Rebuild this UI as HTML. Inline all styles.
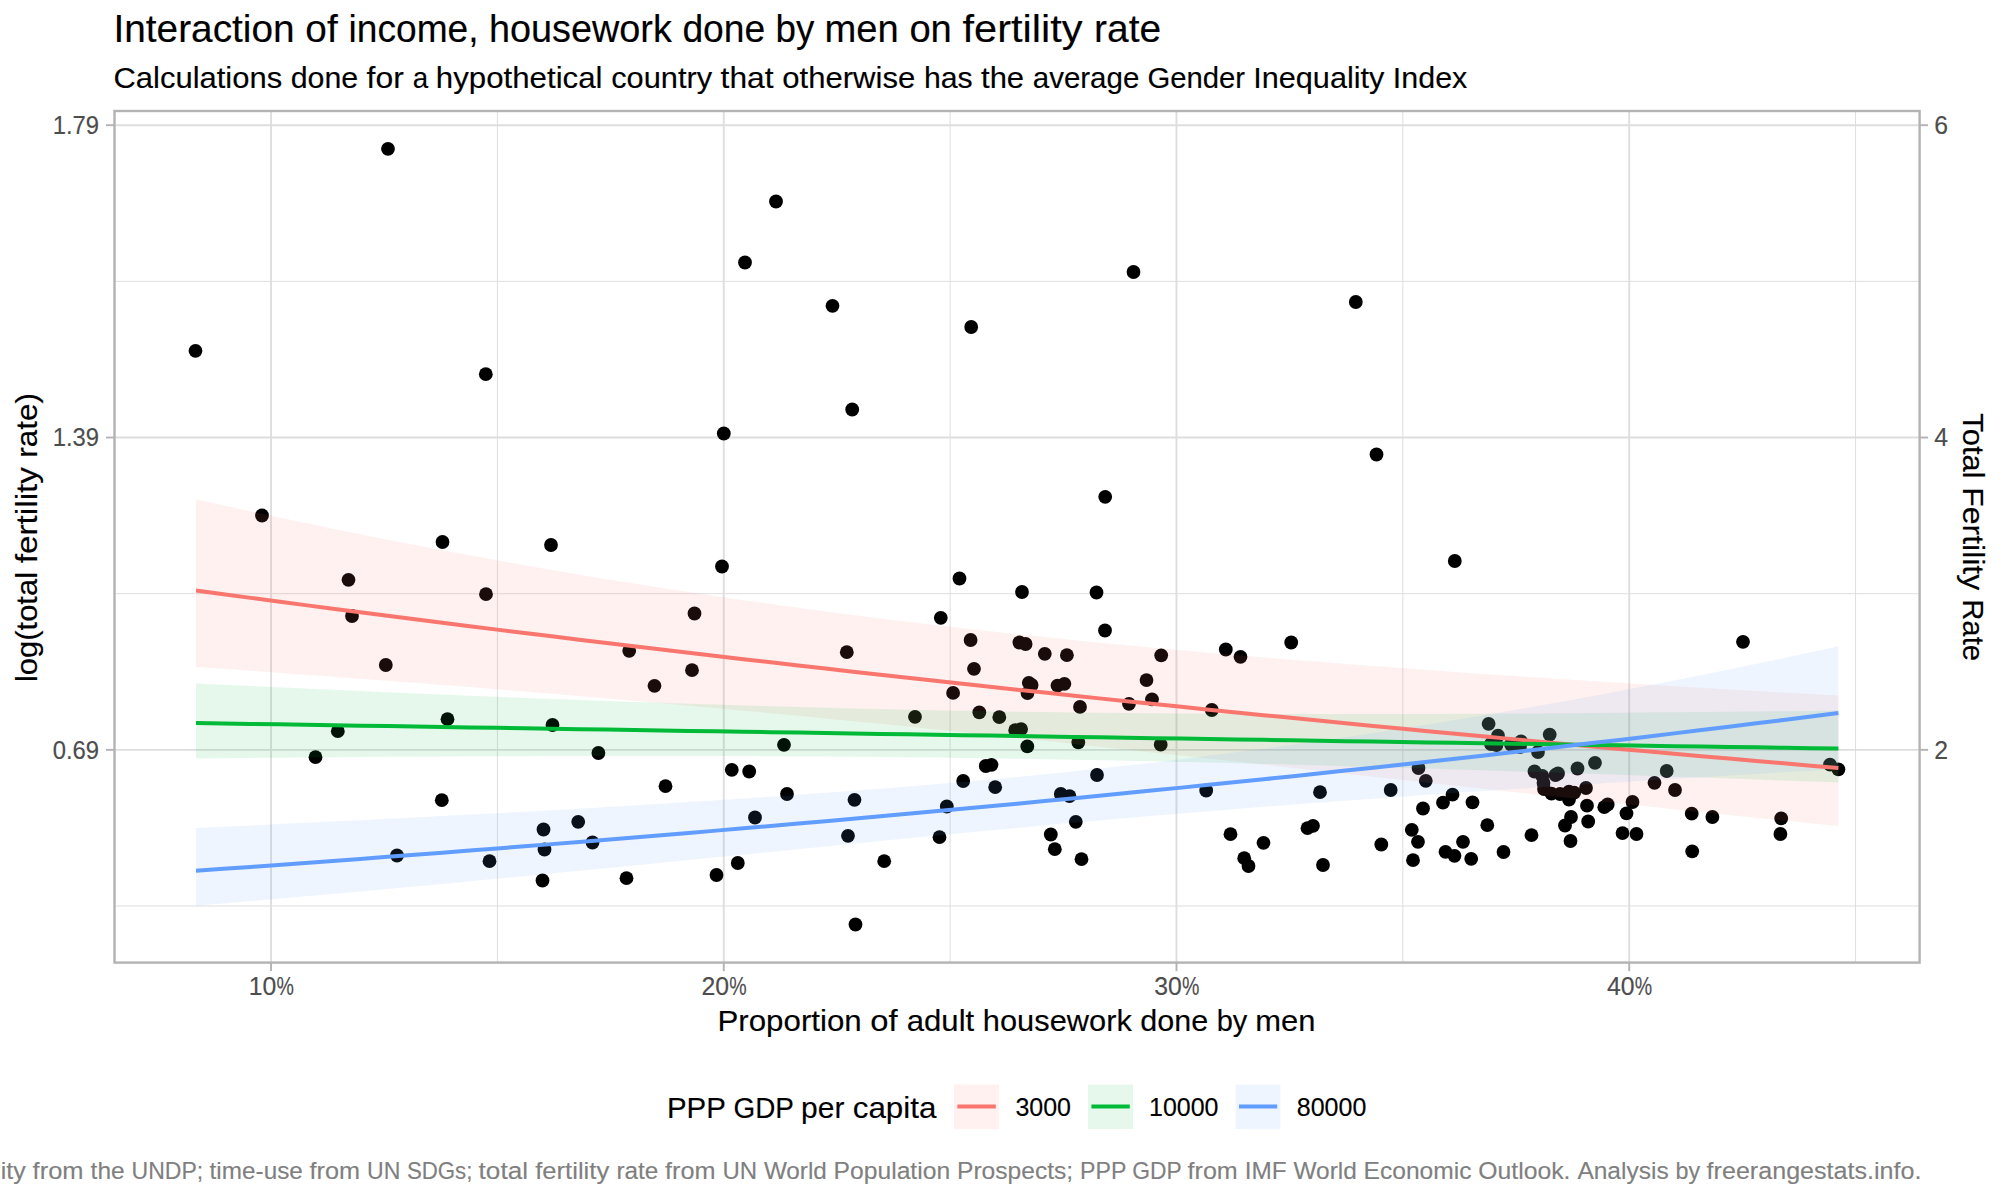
<!DOCTYPE html>
<html lang="en">
<head>
<meta charset="utf-8">
<title>Interaction of income, housework done by men on fertility rate</title>
<style>
html,body{margin:0;padding:0;background:#fff;}
body{width:2000px;height:1200px;overflow:hidden;font-family:'Liberation Sans', sans-serif;}
svg{display:block;}
text{white-space:pre;}
</style>
</head>
<body>
<svg width="2000" height="1200" viewBox="0 0 2000 1200" font-family="'Liberation Sans', sans-serif">
<rect x="0" y="0" width="2000" height="1200" fill="#ffffff"/>
<g id="grid" fill="none">
<line x1="114.5" x2="1919.6" y1="906.01" y2="906.01" stroke="#dedede" stroke-width="1.0"/>
<line x1="114.5" x2="1919.6" y1="593.69" y2="593.69" stroke="#dedede" stroke-width="1.0"/>
<line x1="114.5" x2="1919.6" y1="281.36" y2="281.36" stroke="#dedede" stroke-width="1.0"/>
<line x1="497.41" x2="497.41" y1="111.0" y2="962.6" stroke="#dedede" stroke-width="1.0"/>
<line x1="950.12" x2="950.12" y1="111.0" y2="962.6" stroke="#dedede" stroke-width="1.0"/>
<line x1="1402.84" x2="1402.84" y1="111.0" y2="962.6" stroke="#dedede" stroke-width="1.0"/>
<line x1="1855.56" x2="1855.56" y1="111.0" y2="962.6" stroke="#dedede" stroke-width="1.0"/>
<line x1="114.5" x2="1919.6" y1="749.85" y2="749.85" stroke="#dedede" stroke-width="1.9"/>
<line x1="114.5" x2="1919.6" y1="437.53" y2="437.53" stroke="#dedede" stroke-width="1.9"/>
<line x1="114.5" x2="1919.6" y1="125.20" y2="125.20" stroke="#dedede" stroke-width="1.9"/>
<line x1="271.05" x2="271.05" y1="111.0" y2="962.6" stroke="#dedede" stroke-width="1.9"/>
<line x1="723.77" x2="723.77" y1="111.0" y2="962.6" stroke="#dedede" stroke-width="1.9"/>
<line x1="1176.48" x2="1176.48" y1="111.0" y2="962.6" stroke="#dedede" stroke-width="1.9"/>
<line x1="1629.20" x2="1629.20" y1="111.0" y2="962.6" stroke="#dedede" stroke-width="1.9"/>
</g>
<g id="points" fill="#000000">
<circle cx="388.0" cy="148.8" r="6.9"/>
<circle cx="195.5" cy="350.8" r="6.9"/>
<circle cx="485.8" cy="374.2" r="6.9"/>
<circle cx="776.0" cy="201.5" r="6.9"/>
<circle cx="745.0" cy="262.5" r="6.9"/>
<circle cx="832.5" cy="305.8" r="6.9"/>
<circle cx="971.2" cy="327.0" r="6.9"/>
<circle cx="1133.5" cy="272.0" r="6.9"/>
<circle cx="1355.8" cy="302.0" r="6.9"/>
<circle cx="262.0" cy="515.5" r="6.9"/>
<circle cx="442.5" cy="542.0" r="6.9"/>
<circle cx="551.0" cy="545.0" r="6.9"/>
<circle cx="348.5" cy="579.8" r="6.9"/>
<circle cx="486.0" cy="594.2" r="6.9"/>
<circle cx="352.0" cy="616.0" r="6.9"/>
<circle cx="385.8" cy="665.0" r="6.9"/>
<circle cx="852.2" cy="409.5" r="6.9"/>
<circle cx="723.8" cy="433.5" r="6.9"/>
<circle cx="722.0" cy="566.5" r="6.9"/>
<circle cx="959.5" cy="578.5" r="6.9"/>
<circle cx="1022.0" cy="592.0" r="6.9"/>
<circle cx="1096.5" cy="592.5" r="6.9"/>
<circle cx="694.5" cy="613.5" r="6.9"/>
<circle cx="940.8" cy="617.8" r="6.9"/>
<circle cx="970.6" cy="640.0" r="6.9"/>
<circle cx="1019.4" cy="642.5" r="6.9"/>
<circle cx="1025.6" cy="644.0" r="6.9"/>
<circle cx="1044.8" cy="653.8" r="6.9"/>
<circle cx="1066.9" cy="655.2" r="6.9"/>
<circle cx="629.2" cy="650.8" r="6.9"/>
<circle cx="846.8" cy="652.2" r="6.9"/>
<circle cx="692.0" cy="670.2" r="6.9"/>
<circle cx="974.0" cy="668.8" r="6.9"/>
<circle cx="654.5" cy="685.8" r="6.9"/>
<circle cx="953.1" cy="692.9" r="6.9"/>
<circle cx="1028.8" cy="682.8" r="6.9"/>
<circle cx="1031.6" cy="685.0" r="6.9"/>
<circle cx="1027.5" cy="693.1" r="6.9"/>
<circle cx="1057.5" cy="685.6" r="6.9"/>
<circle cx="1064.4" cy="683.8" r="6.9"/>
<circle cx="1105.2" cy="496.8" r="6.9"/>
<circle cx="1105.0" cy="630.5" r="6.9"/>
<circle cx="1376.5" cy="454.5" r="6.9"/>
<circle cx="1454.8" cy="561.0" r="6.9"/>
<circle cx="1291.2" cy="642.5" r="6.9"/>
<circle cx="1225.8" cy="649.5" r="6.9"/>
<circle cx="1240.5" cy="656.8" r="6.9"/>
<circle cx="1161.2" cy="655.3" r="6.9"/>
<circle cx="1146.5" cy="680.1" r="6.9"/>
<circle cx="1152.0" cy="699.3" r="6.9"/>
<circle cx="1129.0" cy="703.8" r="6.9"/>
<circle cx="1743.0" cy="641.8" r="6.9"/>
<circle cx="1080.0" cy="706.9" r="6.9"/>
<circle cx="447.5" cy="719.2" r="6.9"/>
<circle cx="552.5" cy="725.0" r="6.9"/>
<circle cx="337.8" cy="731.2" r="6.9"/>
<circle cx="315.5" cy="757.2" r="6.9"/>
<circle cx="598.4" cy="753.0" r="6.9"/>
<circle cx="441.8" cy="800.2" r="6.9"/>
<circle cx="578.2" cy="821.8" r="6.9"/>
<circle cx="543.5" cy="829.5" r="6.9"/>
<circle cx="592.5" cy="842.5" r="6.9"/>
<circle cx="544.5" cy="849.5" r="6.9"/>
<circle cx="397.0" cy="855.5" r="6.9"/>
<circle cx="489.5" cy="861.2" r="6.9"/>
<circle cx="542.5" cy="880.5" r="6.9"/>
<circle cx="915.0" cy="716.8" r="6.9"/>
<circle cx="979.3" cy="712.3" r="6.9"/>
<circle cx="999.3" cy="717.2" r="6.9"/>
<circle cx="1015.2" cy="730.2" r="6.9"/>
<circle cx="1021.1" cy="729.1" r="6.9"/>
<circle cx="1027.3" cy="746.4" r="6.9"/>
<circle cx="1078.3" cy="742.3" r="6.9"/>
<circle cx="784.0" cy="744.8" r="6.9"/>
<circle cx="731.8" cy="769.8" r="6.9"/>
<circle cx="749.2" cy="771.5" r="6.9"/>
<circle cx="985.8" cy="766.0" r="6.9"/>
<circle cx="991.5" cy="764.8" r="6.9"/>
<circle cx="1097.0" cy="775.0" r="6.9"/>
<circle cx="665.5" cy="786.2" r="6.9"/>
<circle cx="963.2" cy="781.0" r="6.9"/>
<circle cx="995.2" cy="787.2" r="6.9"/>
<circle cx="787.0" cy="794.0" r="6.9"/>
<circle cx="854.5" cy="799.8" r="6.9"/>
<circle cx="1060.8" cy="794.0" r="6.9"/>
<circle cx="1069.5" cy="796.2" r="6.9"/>
<circle cx="946.8" cy="806.5" r="6.9"/>
<circle cx="755.0" cy="817.5" r="6.9"/>
<circle cx="1075.8" cy="821.8" r="6.9"/>
<circle cx="848.0" cy="835.8" r="6.9"/>
<circle cx="939.5" cy="837.2" r="6.9"/>
<circle cx="1050.8" cy="834.5" r="6.9"/>
<circle cx="1054.8" cy="849.2" r="6.9"/>
<circle cx="1081.5" cy="859.2" r="6.9"/>
<circle cx="884.2" cy="861.2" r="6.9"/>
<circle cx="737.8" cy="863.0" r="6.9"/>
<circle cx="716.5" cy="875.0" r="6.9"/>
<circle cx="626.5" cy="878.2" r="6.9"/>
<circle cx="855.5" cy="924.5" r="6.9"/>
<circle cx="1211.8" cy="710.0" r="6.9"/>
<circle cx="1160.7" cy="744.7" r="6.9"/>
<circle cx="1206.2" cy="790.5" r="6.9"/>
<circle cx="1320.0" cy="792.2" r="6.9"/>
<circle cx="1390.7" cy="790.0" r="6.9"/>
<circle cx="1418.5" cy="768.0" r="6.9"/>
<circle cx="1425.8" cy="780.8" r="6.9"/>
<circle cx="1452.5" cy="794.7" r="6.9"/>
<circle cx="1443.0" cy="802.7" r="6.9"/>
<circle cx="1472.5" cy="802.3" r="6.9"/>
<circle cx="1423.0" cy="808.5" r="6.9"/>
<circle cx="1487.3" cy="825.2" r="6.9"/>
<circle cx="1411.8" cy="829.8" r="6.9"/>
<circle cx="1418.0" cy="841.8" r="6.9"/>
<circle cx="1463.0" cy="841.8" r="6.9"/>
<circle cx="1381.3" cy="844.5" r="6.9"/>
<circle cx="1445.5" cy="851.8" r="6.9"/>
<circle cx="1454.5" cy="855.8" r="6.9"/>
<circle cx="1471.2" cy="858.8" r="6.9"/>
<circle cx="1413.0" cy="860.2" r="6.9"/>
<circle cx="1503.5" cy="852.0" r="6.9"/>
<circle cx="1531.5" cy="835.2" r="6.9"/>
<circle cx="1230.5" cy="834.2" r="6.9"/>
<circle cx="1263.5" cy="842.8" r="6.9"/>
<circle cx="1244.2" cy="858.2" r="6.9"/>
<circle cx="1248.5" cy="866.0" r="6.9"/>
<circle cx="1307.5" cy="828.2" r="6.9"/>
<circle cx="1313.0" cy="825.8" r="6.9"/>
<circle cx="1323.0" cy="865.0" r="6.9"/>
<circle cx="1488.6" cy="723.8" r="6.9"/>
<circle cx="1498.0" cy="735.7" r="6.9"/>
<circle cx="1549.7" cy="734.6" r="6.9"/>
<circle cx="1491.0" cy="744.0" r="6.9"/>
<circle cx="1496.5" cy="745.0" r="6.9"/>
<circle cx="1521.0" cy="741.5" r="6.9"/>
<circle cx="1511.0" cy="744.5" r="6.9"/>
<circle cx="1520.0" cy="747.0" r="6.9"/>
<circle cx="1538.0" cy="752.0" r="6.9"/>
<circle cx="1595.0" cy="762.8" r="6.9"/>
<circle cx="1577.5" cy="768.5" r="6.9"/>
<circle cx="1534.5" cy="771.5" r="6.9"/>
<circle cx="1558.0" cy="773.5" r="6.9"/>
<circle cx="1555.5" cy="775.0" r="6.9"/>
<circle cx="1542.3" cy="776.0" r="6.9"/>
<circle cx="1543.5" cy="783.0" r="6.9"/>
<circle cx="1544.0" cy="789.0" r="6.9"/>
<circle cx="1551.5" cy="793.7" r="6.9"/>
<circle cx="1560.0" cy="794.0" r="6.9"/>
<circle cx="1569.0" cy="791.7" r="6.9"/>
<circle cx="1574.2" cy="792.7" r="6.9"/>
<circle cx="1586.0" cy="788.0" r="6.9"/>
<circle cx="1569.0" cy="799.5" r="6.9"/>
<circle cx="1654.5" cy="782.8" r="6.9"/>
<circle cx="1666.7" cy="771.0" r="6.9"/>
<circle cx="1675.0" cy="790.0" r="6.9"/>
<circle cx="1632.5" cy="802.0" r="6.9"/>
<circle cx="1587.0" cy="805.7" r="6.9"/>
<circle cx="1604.3" cy="807.2" r="6.9"/>
<circle cx="1607.7" cy="804.5" r="6.9"/>
<circle cx="1626.5" cy="813.3" r="6.9"/>
<circle cx="1571.0" cy="817.0" r="6.9"/>
<circle cx="1588.2" cy="821.5" r="6.9"/>
<circle cx="1565.0" cy="825.5" r="6.9"/>
<circle cx="1570.5" cy="841.0" r="6.9"/>
<circle cx="1622.5" cy="833.1" r="6.9"/>
<circle cx="1636.5" cy="834.0" r="6.9"/>
<circle cx="1691.7" cy="813.7" r="6.9"/>
<circle cx="1712.4" cy="817.0" r="6.9"/>
<circle cx="1692.2" cy="851.3" r="6.9"/>
<circle cx="1781.2" cy="818.4" r="6.9"/>
<circle cx="1780.4" cy="834.0" r="6.9"/>
<circle cx="1830.0" cy="764.6" r="6.9"/>
<circle cx="1838.4" cy="769.4" r="6.9"/>
</g>
<g id="ribbons" stroke="none">
<path d="M196.0,499.33 L223.4,505.44 L250.7,511.43 L278.1,517.31 L305.5,523.08 L332.9,528.74 L360.2,534.28 L387.6,539.72 L415.0,545.05 L442.4,550.26 L469.7,555.36 L497.1,560.35 L524.5,565.22 L551.9,569.99 L579.2,574.64 L606.6,579.17 L634.0,583.60 L661.3,587.91 L688.7,592.11 L716.1,596.20 L743.5,600.18 L770.8,604.05 L798.2,607.81 L825.6,611.46 L853.0,615.01 L880.3,618.46 L907.7,621.81 L935.1,625.06 L962.5,628.21 L989.8,631.27 L1017.2,634.24 L1044.6,637.12 L1071.9,639.92 L1099.3,642.64 L1126.7,645.28 L1154.1,647.84 L1181.4,650.33 L1208.8,652.76 L1236.2,655.12 L1263.6,657.42 L1290.9,659.65 L1318.3,661.84 L1345.7,663.96 L1373.1,666.04 L1400.4,668.07 L1427.8,670.05 L1455.2,671.99 L1482.5,673.89 L1509.9,675.75 L1537.3,677.57 L1564.7,679.35 L1592.0,681.10 L1619.4,682.82 L1646.8,684.51 L1674.2,686.17 L1701.5,687.81 L1728.9,689.41 L1756.3,691.00 L1783.7,692.55 L1811.0,694.09 L1838.4,695.60 L1838.4,826.10 L1811.0,823.34 L1783.7,820.56 L1756.3,817.76 L1728.9,814.93 L1701.5,812.09 L1674.2,809.23 L1646.8,806.35 L1619.4,803.44 L1592.0,800.53 L1564.7,797.59 L1537.3,794.64 L1509.9,791.68 L1482.5,788.71 L1455.2,785.72 L1427.8,782.72 L1400.4,779.72 L1373.1,776.71 L1345.7,773.69 L1318.3,770.67 L1290.9,767.66 L1263.6,764.64 L1236.2,761.62 L1208.8,758.62 L1181.4,755.62 L1154.1,752.63 L1126.7,749.65 L1099.3,746.69 L1071.9,743.75 L1044.6,740.83 L1017.2,737.93 L989.8,735.06 L962.5,732.21 L935.1,729.40 L907.7,726.61 L880.3,723.86 L853.0,721.15 L825.6,718.47 L798.2,715.82 L770.8,713.22 L743.5,710.65 L716.1,708.13 L688.7,705.64 L661.3,703.19 L634.0,700.78 L606.6,698.41 L579.2,696.08 L551.9,693.79 L524.5,691.53 L497.1,689.31 L469.7,687.12 L442.4,684.97 L415.0,682.85 L387.6,680.76 L360.2,678.70 L332.9,676.67 L305.5,674.67 L278.1,672.69 L250.7,670.74 L223.4,668.81 L196.0,666.90Z" fill="#F8766D" fill-opacity="0.1"/>
<path d="M196.0,683.46 L223.4,684.77 L250.7,686.07 L278.1,687.34 L305.5,688.60 L332.9,689.84 L360.2,691.05 L387.6,692.25 L415.0,693.42 L442.4,694.58 L469.7,695.70 L497.1,696.81 L524.5,697.89 L551.9,698.94 L579.2,699.96 L606.6,700.96 L634.0,701.92 L661.3,702.85 L688.7,703.76 L716.1,704.62 L743.5,705.46 L770.8,706.25 L798.2,707.01 L825.6,707.73 L853.0,708.42 L880.3,709.06 L907.7,709.67 L935.1,710.23 L962.5,710.75 L989.8,711.23 L1017.2,711.68 L1044.6,712.08 L1071.9,712.44 L1099.3,712.76 L1126.7,713.04 L1154.1,713.28 L1181.4,713.49 L1208.8,713.66 L1236.2,713.80 L1263.6,713.90 L1290.9,713.97 L1318.3,714.01 L1345.7,714.02 L1373.1,714.01 L1400.4,713.96 L1427.8,713.89 L1455.2,713.80 L1482.5,713.69 L1509.9,713.55 L1537.3,713.39 L1564.7,713.22 L1592.0,713.02 L1619.4,712.81 L1646.8,712.58 L1674.2,712.34 L1701.5,712.08 L1728.9,711.81 L1756.3,711.52 L1783.7,711.22 L1811.0,710.92 L1838.4,710.60 L1838.4,782.50 L1811.0,781.51 L1783.7,780.53 L1756.3,779.55 L1728.9,778.58 L1701.5,777.61 L1674.2,776.66 L1646.8,775.71 L1619.4,774.77 L1592.0,773.85 L1564.7,772.93 L1537.3,772.02 L1509.9,771.13 L1482.5,770.26 L1455.2,769.39 L1427.8,768.55 L1400.4,767.72 L1373.1,766.91 L1345.7,766.13 L1318.3,765.36 L1290.9,764.62 L1263.6,763.90 L1236.2,763.21 L1208.8,762.54 L1181.4,761.90 L1154.1,761.29 L1126.7,760.72 L1099.3,760.17 L1071.9,759.66 L1044.6,759.18 L1017.2,758.73 L989.8,758.32 L962.5,757.94 L935.1,757.60 L907.7,757.29 L880.3,757.01 L853.0,756.77 L825.6,756.56 L798.2,756.38 L770.8,756.24 L743.5,756.12 L716.1,756.03 L688.7,755.97 L661.3,755.94 L634.0,755.93 L606.6,755.95 L579.2,755.99 L551.9,756.06 L524.5,756.14 L497.1,756.25 L469.7,756.37 L442.4,756.51 L415.0,756.66 L387.6,756.84 L360.2,757.02 L332.9,757.23 L305.5,757.44 L278.1,757.67 L250.7,757.90 L223.4,758.15 L196.0,758.41Z" fill="#00BA38" fill-opacity="0.1"/>
<path d="M196.0,827.89 L223.4,826.64 L250.7,825.38 L278.1,824.10 L305.5,822.80 L332.9,821.48 L360.2,820.15 L387.6,818.79 L415.0,817.42 L442.4,816.02 L469.7,814.60 L497.1,813.15 L524.5,811.67 L551.9,810.17 L579.2,808.63 L606.6,807.06 L634.0,805.45 L661.3,803.80 L688.7,802.11 L716.1,800.37 L743.5,798.58 L770.8,796.74 L798.2,794.84 L825.6,792.87 L853.0,790.83 L880.3,788.73 L907.7,786.54 L935.1,784.26 L962.5,781.90 L989.8,779.44 L1017.2,776.88 L1044.6,774.22 L1071.9,771.45 L1099.3,768.56 L1126.7,765.56 L1154.1,762.43 L1181.4,759.19 L1208.8,755.82 L1236.2,752.33 L1263.6,748.72 L1290.9,744.98 L1318.3,741.12 L1345.7,737.15 L1373.1,733.05 L1400.4,728.83 L1427.8,724.50 L1455.2,720.06 L1482.5,715.50 L1509.9,710.83 L1537.3,706.04 L1564.7,701.15 L1592.0,696.15 L1619.4,691.04 L1646.8,685.82 L1674.2,680.49 L1701.5,675.06 L1728.9,669.52 L1756.3,663.87 L1783.7,658.12 L1811.0,652.25 L1838.4,646.28 L1838.4,769.01 L1811.0,770.64 L1783.7,772.28 L1756.3,773.93 L1728.9,775.58 L1701.5,777.24 L1674.2,778.92 L1646.8,780.61 L1619.4,782.32 L1592.0,784.04 L1564.7,785.78 L1537.3,787.54 L1509.9,789.32 L1482.5,791.13 L1455.2,792.97 L1427.8,794.83 L1400.4,796.73 L1373.1,798.66 L1345.7,800.63 L1318.3,802.65 L1290.9,804.70 L1263.6,806.80 L1236.2,808.95 L1208.8,811.14 L1181.4,813.39 L1154.1,815.68 L1126.7,818.03 L1099.3,820.42 L1071.9,822.87 L1044.6,825.35 L1017.2,827.88 L989.8,830.45 L962.5,833.06 L935.1,835.69 L907.7,838.36 L880.3,841.04 L853.0,843.74 L825.6,846.46 L798.2,849.18 L770.8,851.91 L743.5,854.64 L716.1,857.37 L688.7,860.09 L661.3,862.80 L634.0,865.50 L606.6,868.18 L579.2,870.85 L551.9,873.51 L524.5,876.14 L497.1,878.75 L469.7,881.33 L442.4,883.90 L415.0,886.43 L387.6,888.95 L360.2,891.43 L332.9,893.89 L305.5,896.32 L278.1,898.73 L250.7,901.10 L223.4,903.45 L196.0,905.77Z" fill="#619CFF" fill-opacity="0.1"/>
</g>
<g id="lines" fill="none" stroke-width="4" stroke-linecap="butt">
<path d="M196.0,590.50 L223.4,594.20 L250.7,597.86 L278.1,601.50 L305.5,605.11 L332.9,608.70 L360.2,612.25 L387.6,615.78 L415.0,619.28 L442.4,622.75 L469.7,626.19 L497.1,629.61 L524.5,633.00 L551.9,636.36 L579.2,639.70 L606.6,643.01 L634.0,646.30 L661.3,649.56 L688.7,652.79 L716.1,656.00 L743.5,659.18 L770.8,662.34 L798.2,665.47 L825.6,668.58 L853.0,671.67 L880.3,674.73 L907.7,677.77 L935.1,680.78 L962.5,683.77 L989.8,686.73 L1017.2,689.68 L1044.6,692.60 L1071.9,695.49 L1099.3,698.37 L1126.7,701.22 L1154.1,704.05 L1181.4,706.85 L1208.8,709.64 L1236.2,712.40 L1263.6,715.14 L1290.9,717.86 L1318.3,720.56 L1345.7,723.24 L1373.1,725.90 L1400.4,728.53 L1427.8,731.15 L1455.2,733.74 L1482.5,736.32 L1509.9,738.87 L1537.3,741.40 L1564.7,743.92 L1592.0,746.41 L1619.4,748.89 L1646.8,751.34 L1674.2,753.78 L1701.5,756.20 L1728.9,758.59 L1756.3,760.97 L1783.7,763.33 L1811.0,765.68 L1838.4,768.00" stroke="#F8766D"/>
<path d="M196.0,723.00 L223.4,723.44 L250.7,723.89 L278.1,724.33 L305.5,724.77 L332.9,725.21 L360.2,725.65 L387.6,726.09 L415.0,726.53 L442.4,726.97 L469.7,727.41 L497.1,727.84 L524.5,728.28 L551.9,728.72 L579.2,729.15 L606.6,729.59 L634.0,730.02 L661.3,730.46 L688.7,730.89 L716.1,731.33 L743.5,731.76 L770.8,732.19 L798.2,732.62 L825.6,733.05 L853.0,733.48 L880.3,733.91 L907.7,734.34 L935.1,734.77 L962.5,735.20 L989.8,735.62 L1017.2,736.05 L1044.6,736.48 L1071.9,736.90 L1099.3,737.33 L1126.7,737.75 L1154.1,738.18 L1181.4,738.60 L1208.8,739.02 L1236.2,739.45 L1263.6,739.87 L1290.9,740.29 L1318.3,740.71 L1345.7,741.13 L1373.1,741.55 L1400.4,741.97 L1427.8,742.39 L1455.2,742.81 L1482.5,743.22 L1509.9,743.64 L1537.3,744.06 L1564.7,744.47 L1592.0,744.89 L1619.4,745.30 L1646.8,745.72 L1674.2,746.13 L1701.5,746.54 L1728.9,746.96 L1756.3,747.37 L1783.7,747.78 L1811.0,748.19 L1838.4,748.60" stroke="#00BA38"/>
<path d="M196.0,870.75 L223.4,868.82 L250.7,866.88 L278.1,864.91 L305.5,862.92 L332.9,860.92 L360.2,858.89 L387.6,856.84 L415.0,854.78 L442.4,852.69 L469.7,850.58 L497.1,848.45 L524.5,846.30 L551.9,844.12 L579.2,841.93 L606.6,839.71 L634.0,837.47 L661.3,835.21 L688.7,832.92 L716.1,830.62 L743.5,828.28 L770.8,825.93 L798.2,823.55 L825.6,821.15 L853.0,818.72 L880.3,816.27 L907.7,813.79 L935.1,811.29 L962.5,808.77 L989.8,806.22 L1017.2,803.64 L1044.6,801.04 L1071.9,798.41 L1099.3,795.75 L1126.7,793.07 L1154.1,790.36 L1181.4,787.62 L1208.8,784.86 L1236.2,782.07 L1263.6,779.25 L1290.9,776.40 L1318.3,773.52 L1345.7,770.61 L1373.1,767.68 L1400.4,764.71 L1427.8,761.72 L1455.2,758.69 L1482.5,755.64 L1509.9,752.55 L1537.3,749.43 L1564.7,746.29 L1592.0,743.10 L1619.4,739.89 L1646.8,736.65 L1674.2,733.37 L1701.5,730.06 L1728.9,726.72 L1756.3,723.34 L1783.7,719.93 L1811.0,716.48 L1838.4,713.00" stroke="#619CFF"/>
</g>
<rect x="114.5" y="111.0" width="1805.1" height="851.6" fill="none" stroke="#b3b3b3" stroke-width="2.4"/>
<g id="ticks" stroke="#b3b3b3" stroke-width="1.9">
<line x1="106.0" x2="114.5" y1="749.85" y2="749.85"/>
<line x1="1919.6" x2="1928.1" y1="749.85" y2="749.85"/>
<line x1="106.0" x2="114.5" y1="437.53" y2="437.53"/>
<line x1="1919.6" x2="1928.1" y1="437.53" y2="437.53"/>
<line x1="106.0" x2="114.5" y1="125.20" y2="125.20"/>
<line x1="1919.6" x2="1928.1" y1="125.20" y2="125.20"/>
<line x1="271.05" x2="271.05" y1="962.6" y2="971.1"/>
<line x1="723.77" x2="723.77" y1="962.6" y2="971.1"/>
<line x1="1176.48" x2="1176.48" y1="962.6" y2="971.1"/>
<line x1="1629.20" x2="1629.20" y1="962.6" y2="971.1"/>
</g>
<g id="axis-labels">
<text x="99.1" y="134.0" font-size="25.4" fill="#4d4d4d" stroke="#4d4d4d" stroke-width="0.15" text-anchor="end" textLength="46.4" lengthAdjust="spacingAndGlyphs">1.79</text>
<text x="99.1" y="446.3" font-size="25.4" fill="#4d4d4d" stroke="#4d4d4d" stroke-width="0.15" text-anchor="end" textLength="46.4" lengthAdjust="spacingAndGlyphs">1.39</text>
<text x="99.1" y="758.6" font-size="25.4" fill="#4d4d4d" stroke="#4d4d4d" stroke-width="0.15" text-anchor="end" textLength="46.4" lengthAdjust="spacingAndGlyphs">0.69</text>
<text x="1934.2" y="134.0" font-size="25.4" fill="#4d4d4d" stroke="#4d4d4d" stroke-width="0.15" text-anchor="start" textLength="13.8" lengthAdjust="spacingAndGlyphs">6</text>
<text x="1934.2" y="446.3" font-size="25.4" fill="#4d4d4d" stroke="#4d4d4d" stroke-width="0.15" text-anchor="start" textLength="13.8" lengthAdjust="spacingAndGlyphs">4</text>
<text x="1934.2" y="758.6" font-size="25.4" fill="#4d4d4d" stroke="#4d4d4d" stroke-width="0.15" text-anchor="start" textLength="13.8" lengthAdjust="spacingAndGlyphs">2</text>
<text y="995.0" font-size="25.4" fill="#4d4d4d" stroke="#4d4d4d" stroke-width="0.15"><tspan x="248.75" textLength="27.6" lengthAdjust="spacingAndGlyphs">10</tspan><tspan x="276.55" textLength="17.4" lengthAdjust="spacingAndGlyphs">%</tspan></text>
<text y="995.0" font-size="25.4" fill="#4d4d4d" stroke="#4d4d4d" stroke-width="0.15"><tspan x="701.47" textLength="27.6" lengthAdjust="spacingAndGlyphs">20</tspan><tspan x="729.27" textLength="17.4" lengthAdjust="spacingAndGlyphs">%</tspan></text>
<text y="995.0" font-size="25.4" fill="#4d4d4d" stroke="#4d4d4d" stroke-width="0.15"><tspan x="1154.18" textLength="27.6" lengthAdjust="spacingAndGlyphs">30</tspan><tspan x="1181.98" textLength="17.4" lengthAdjust="spacingAndGlyphs">%</tspan></text>
<text y="995.0" font-size="25.4" fill="#4d4d4d" stroke="#4d4d4d" stroke-width="0.15"><tspan x="1606.90" textLength="27.6" lengthAdjust="spacingAndGlyphs">40</tspan><tspan x="1634.70" textLength="17.4" lengthAdjust="spacingAndGlyphs">%</tspan></text>
</g>
<text y="42.4" font-size="38.5" fill="#000000" stroke="#000000" stroke-width="0.15"><tspan x="113.50" textLength="191.88" lengthAdjust="spacingAndGlyphs">Interaction </tspan><tspan x="305.38" textLength="43.12" lengthAdjust="spacingAndGlyphs">of </tspan><tspan x="348.50" textLength="140.38" lengthAdjust="spacingAndGlyphs">income, </tspan><tspan x="488.88" textLength="193.50" lengthAdjust="spacingAndGlyphs">housework </tspan><tspan x="682.38" textLength="93.12" lengthAdjust="spacingAndGlyphs">done </tspan><tspan x="775.50" textLength="49.00" lengthAdjust="spacingAndGlyphs">by </tspan><tspan x="824.50" textLength="84.88" lengthAdjust="spacingAndGlyphs">men </tspan><tspan x="909.38" textLength="53.12" lengthAdjust="spacingAndGlyphs">on </tspan><tspan x="962.50" textLength="131.60" lengthAdjust="spacingAndGlyphs">fertility </tspan><tspan x="1094.07" textLength="67.06" lengthAdjust="spacingAndGlyphs">rate</tspan></text>
<text y="87.8" font-size="30.4" fill="#000000" stroke="#000000" stroke-width="0.15"><tspan x="113.50" textLength="177.25" lengthAdjust="spacingAndGlyphs">Calculations </tspan><tspan x="290.75" textLength="75.88" lengthAdjust="spacingAndGlyphs">done </tspan><tspan x="366.62" textLength="46.12" lengthAdjust="spacingAndGlyphs">for </tspan><tspan x="412.75" textLength="23.12" lengthAdjust="spacingAndGlyphs">a </tspan><tspan x="435.88" textLength="175.27" lengthAdjust="spacingAndGlyphs">hypothetical </tspan><tspan x="611.15" textLength="109.48" lengthAdjust="spacingAndGlyphs">country </tspan><tspan x="720.62" textLength="61.73" lengthAdjust="spacingAndGlyphs">that </tspan><tspan x="782.35" textLength="141.52" lengthAdjust="spacingAndGlyphs">otherwise </tspan><tspan x="923.88" textLength="57.15" lengthAdjust="spacingAndGlyphs">has </tspan><tspan x="981.02" textLength="51.73" lengthAdjust="spacingAndGlyphs">the </tspan><tspan x="1032.75" textLength="114.75" lengthAdjust="spacingAndGlyphs">average </tspan><tspan x="1147.50" textLength="105.75" lengthAdjust="spacingAndGlyphs">Gender </tspan><tspan x="1253.25" textLength="139.60" lengthAdjust="spacingAndGlyphs">Inequality </tspan><tspan x="1392.84" textLength="74.52" lengthAdjust="spacingAndGlyphs">Index</tspan></text>
<text y="1030.8" font-size="30.4" fill="#000000" stroke="#000000" stroke-width="0.15"><tspan x="717.50" textLength="152.85" lengthAdjust="spacingAndGlyphs">Proportion </tspan><tspan x="870.35" textLength="36.40" lengthAdjust="spacingAndGlyphs">of </tspan><tspan x="906.75" textLength="76.12" lengthAdjust="spacingAndGlyphs">adult </tspan><tspan x="982.88" textLength="157.47" lengthAdjust="spacingAndGlyphs">housework </tspan><tspan x="1140.35" textLength="76.38" lengthAdjust="spacingAndGlyphs">done </tspan><tspan x="1216.72" textLength="38.68" lengthAdjust="spacingAndGlyphs">by </tspan><tspan x="1255.37" textLength="60.15" lengthAdjust="spacingAndGlyphs">men</tspan></text>
<text y="0" font-size="30.4" fill="#000000" stroke="#000000" stroke-width="0.15" transform="translate(36.6 0) rotate(-90)"><tspan x="-682.00" textLength="118.62" lengthAdjust="spacingAndGlyphs">log(total </tspan><tspan x="-563.38" textLength="105.68" lengthAdjust="spacingAndGlyphs">fertility </tspan><tspan x="-457.77" textLength="64.72" lengthAdjust="spacingAndGlyphs">rate)</tspan></text>
<text y="0" font-size="30.4" fill="#000000" stroke="#000000" stroke-width="0.15" transform="translate(1963 0) rotate(90)"><tspan x="413.38" textLength="73.82" lengthAdjust="spacingAndGlyphs">Total </tspan><tspan x="487.20" textLength="111.90" lengthAdjust="spacingAndGlyphs">Fertility </tspan><tspan x="599.19" textLength="61.90" lengthAdjust="spacingAndGlyphs">Rate</tspan></text>
<g id="legend">
<text y="1117.6" font-size="30.4" fill="#000000" stroke="#000000" stroke-width="0.15"><tspan x="666.90" textLength="66.60" lengthAdjust="spacingAndGlyphs">PPP </tspan><tspan x="733.50" textLength="67.62" lengthAdjust="spacingAndGlyphs">GDP </tspan><tspan x="801.12" textLength="51.62" lengthAdjust="spacingAndGlyphs">per </tspan><tspan x="852.71" textLength="83.68" lengthAdjust="spacingAndGlyphs">capita</tspan></text>
<rect x="954" y="1084.6" width="45.0" height="44.4" fill="#F8766D" fill-opacity="0.1"/>
<line x1="957.4" x2="995.8" y1="1106.6" y2="1106.6" stroke="#F8766D" stroke-width="4"/>
<text x="1015.4" y="1116.2" font-size="25.4" fill="#000" stroke="#000" stroke-width="0.15" text-anchor="start" textLength="55.6" lengthAdjust="spacingAndGlyphs">3000</text>
<rect x="1088" y="1084.6" width="45.0" height="44.4" fill="#00BA38" fill-opacity="0.1"/>
<line x1="1091.4" x2="1129.8" y1="1106.6" y2="1106.6" stroke="#00BA38" stroke-width="4"/>
<text x="1149.0" y="1116.2" font-size="25.4" fill="#000" stroke="#000" stroke-width="0.15" text-anchor="start" textLength="69.5" lengthAdjust="spacingAndGlyphs">10000</text>
<rect x="1235.6" y="1084.6" width="44.8" height="44.4" fill="#619CFF" fill-opacity="0.1"/>
<line x1="1239.0" x2="1277.2" y1="1106.6" y2="1106.6" stroke="#619CFF" stroke-width="4"/>
<text x="1296.8" y="1116.2" font-size="25.4" fill="#000" stroke="#000" stroke-width="0.15" text-anchor="start" textLength="69.5" lengthAdjust="spacingAndGlyphs">80000</text>
</g>
<text x="-1.5" y="1178.9" font-size="24.5" fill="#7f7f7f" stroke="#7f7f7f" stroke-width="0.15" text-anchor="end">Source: Gender inequal</text>
<text y="1178.9" font-size="24.5" fill="#7f7f7f" stroke="#7f7f7f" stroke-width="0.15"><tspan x="0.77" textLength="31.85" lengthAdjust="spacingAndGlyphs">ity </tspan><tspan x="32.62" textLength="58.00" lengthAdjust="spacingAndGlyphs">from </tspan><tspan x="90.62" textLength="40.90" lengthAdjust="spacingAndGlyphs">the </tspan><tspan x="131.53" textLength="78.10" lengthAdjust="spacingAndGlyphs">UNDP; </tspan><tspan x="209.62" textLength="100.00" lengthAdjust="spacingAndGlyphs">time-use </tspan><tspan x="309.62" textLength="57.50" lengthAdjust="spacingAndGlyphs">from </tspan><tspan x="367.12" textLength="39.75" lengthAdjust="spacingAndGlyphs">UN </tspan><tspan x="406.88" textLength="71.75" lengthAdjust="spacingAndGlyphs">SDGs; </tspan><tspan x="478.62" textLength="56.60" lengthAdjust="spacingAndGlyphs">total </tspan><tspan x="535.23" textLength="81.15" lengthAdjust="spacingAndGlyphs">fertility </tspan><tspan x="616.38" textLength="48.65" lengthAdjust="spacingAndGlyphs">rate </tspan><tspan x="665.02" textLength="57.50" lengthAdjust="spacingAndGlyphs">from </tspan><tspan x="722.52" textLength="41.35" lengthAdjust="spacingAndGlyphs">UN </tspan><tspan x="763.88" textLength="69.73" lengthAdjust="spacingAndGlyphs">World </tspan><tspan x="833.60" textLength="123.40" lengthAdjust="spacingAndGlyphs">Population </tspan><tspan x="957.00" textLength="123.00" lengthAdjust="spacingAndGlyphs">Prospects; </tspan><tspan x="1080.00" textLength="52.35" lengthAdjust="spacingAndGlyphs">PPP </tspan><tspan x="1132.35" textLength="55.28" lengthAdjust="spacingAndGlyphs">GDP </tspan><tspan x="1187.62" textLength="57.12" lengthAdjust="spacingAndGlyphs">from </tspan><tspan x="1244.75" textLength="48.72" lengthAdjust="spacingAndGlyphs">IMF </tspan><tspan x="1293.47" textLength="70.12" lengthAdjust="spacingAndGlyphs">World </tspan><tspan x="1363.60" textLength="114.68" lengthAdjust="spacingAndGlyphs">Economic </tspan><tspan x="1478.28" textLength="99.12" lengthAdjust="spacingAndGlyphs">Outlook. </tspan><tspan x="1577.40" textLength="98.10" lengthAdjust="spacingAndGlyphs">Analysis </tspan><tspan x="1675.50" textLength="31.12" lengthAdjust="spacingAndGlyphs">by </tspan><tspan x="1706.62" textLength="214.86" lengthAdjust="spacingAndGlyphs">freerangestats.info.</tspan></text>
</svg>
</body>
</html>
